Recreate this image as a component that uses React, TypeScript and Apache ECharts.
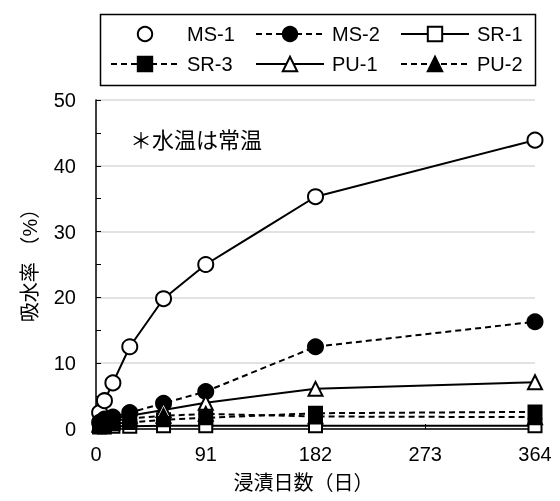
import React, { useEffect, useRef } from "react";
import * as echarts from "echarts";

const days = [3, 7, 14, 28, 56, 91, 182, 364];
const ms1 = [2.5, 4.3, 7.0, 12.5, 19.8, 25.0, 35.3, 43.9];
const ms2 = [1.0, 1.5, 1.8, 2.5, 3.9, 5.7, 12.5, 16.3];
const sr1 = [0.3, 0.3, 0.4, 0.4, 0.5, 0.5, 0.5, 0.5];
const sr3 = [0.4, 0.6, 0.8, 1.0, 1.4, 1.7, 2.4, 2.6];
const pu1 = [0.8, 1.2, 1.6, 2.0, 2.9, 4.0, 6.1, 7.1];
const pu2 = [0.6, 0.9, 1.2, 1.6, 2.0, 2.3, 1.9, 1.8];
const xTicks = [0, 91, 182, 273, 364];

const FONT = "'Liberation Sans', 'Noto Sans CJK JP', sans-serif";

const seriesDefs = [
  { name: "MS-1", data: ms1, symbol: "circle", filled: false, dashed: false, size: 15 },
  { name: "MS-2", data: ms2, symbol: "circle", filled: true, dashed: true, size: 15 },
  { name: "SR-1", data: sr1, symbol: "rect", filled: false, dashed: false, size: 13 },
  { name: "SR-3", data: sr3, symbol: "rect", filled: true, dashed: true, size: 13 },
  { name: "PU-1", data: pu1, symbol: "triangle", filled: false, dashed: false, size: 14 },
  { name: "PU-2", data: pu2, symbol: "triangle", filled: true, dashed: true, size: 14 },
];

export default function App() {
  const ref = useRef<HTMLDivElement>(null);
  useEffect(() => {
    if (!ref.current) return;
    const chart = echarts.init(ref.current, null, { renderer: "svg" });
    const series = seriesDefs.map((s) => ({
      name: s.name,
      type: "line",
      data: days.map((d, i) => [d, s.data[i]]),
      symbol: s.symbol,
      symbolSize: s.size,
      showAllSymbol: true,
      lineStyle: { color: "#000", width: 2, type: s.dashed ? [6, 4] : "solid" },
      itemStyle: { color: s.filled ? "#000" : "#fff", borderColor: "#000", borderWidth: 2 },
      emphasis: { disabled: true },
    }));
    const legendBase = {
      orient: "vertical",
      top: 24,
      padding: 0,
      itemWidth: 68,
      itemHeight: 18,
      itemGap: 10,
      textStyle: { fontSize: 20, color: "#000", fontFamily: FONT, padding: [0, 0, 0, 3] },
      selectedMode: false,
    };
    chart.setOption({
      animation: false,
      textStyle: { fontFamily: FONT },
      grid: { left: 96, right: 25, top: 100, bottom: 72 },
      legend: [
        { ...legendBase, left: 110, data: [{ name: "MS-1", lineStyle: { opacity: 0 } }, "SR-3"] },
        { ...legendBase, left: 255, data: ["MS-2", "PU-1"] },
        { ...legendBase, left: 400, data: ["SR-1", "PU-2"] },
      ],
      xAxis: {
        type: "value",
        min: 0,
        max: 364,
        interval: 91,
        name: "浸漬日数（日）",
        nameLocation: "middle",
        nameGap: 44,
        nameTextStyle: { fontSize: 20, color: "#000", fontFamily: FONT, padding: [0, 24, 0, 0] },
        axisLine: { lineStyle: { color: "#000", width: 1.5 } },
        axisTick: { inside: true, length: 5, lineStyle: { color: "#000" } },
        axisLabel: {
          fontSize: 20,
          color: "#000",
          margin: 15,
          fontFamily: FONT,
          formatter: (v: number) => (xTicks.includes(v) ? String(v) : ""),
        },
        splitLine: { show: false },
      },
      yAxis: {
        type: "value",
        min: 0,
        max: 50,
        interval: 10,
        name: "吸水率 （%）",
        nameLocation: "middle",
        nameRotate: 90,
        nameGap: 56,
        nameTextStyle: { fontSize: 20, color: "#000", fontFamily: FONT, padding: [0, 0, 0, 8] },
        axisLine: { show: true, lineStyle: { color: "#000", width: 1.5 } },
        axisTick: { show: true, inside: true, length: 5, lineStyle: { color: "#000" } },
        minorTick: { show: true, splitNumber: 2, length: 5, lineStyle: { color: "#000" } },
        axisLabel: { fontSize: 20, color: "#000", margin: 20, fontFamily: FONT },
        splitLine: { show: true, lineStyle: { color: "#d9d9d9", width: 1.5 } },
      },
      graphic: [
        {
          type: "rect",
          left: 98,
          top: 12,
          shape: { width: 435, height: 71 },
          style: { fill: "none", stroke: "#000", lineWidth: 1.5 },
          silent: true,
        },
        {
          type: "text",
          left: 130,
          top: 129,
          style: { text: "＊水温は常温", fontSize: 22, fill: "#000", fontFamily: FONT },
          silent: true,
        },
      ],
      series,
    });
    return () => chart.dispose();
  }, []);
  return <div ref={ref} style={{ position: "fixed", left: 0, top: 0, width: 560, height: 501 }} />;
}
